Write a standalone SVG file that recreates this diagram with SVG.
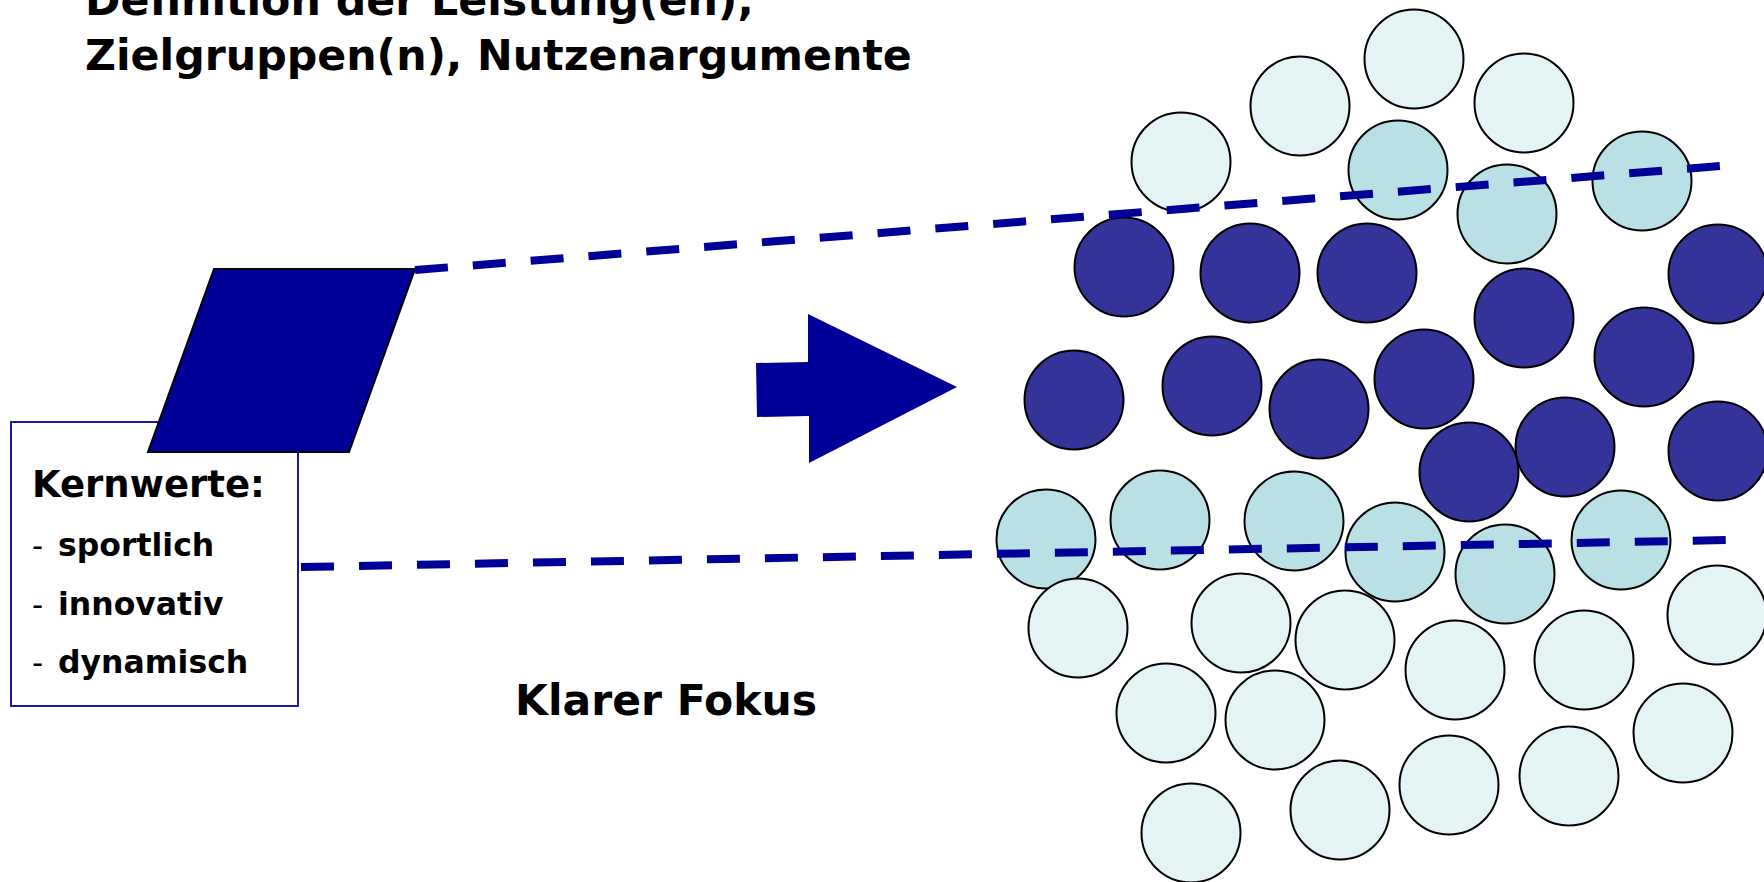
<svg xmlns="http://www.w3.org/2000/svg" width="1764" height="882" viewBox="0 0 1764 882">
  <style>
    .t { font-family: "DejaVu Sans", Verdana, sans-serif; font-weight: bold; fill: #000; }
    .dash { font-family: "DejaVu Sans", Verdana, sans-serif; font-weight: normal; fill: #000; }
    .c { stroke: #000; stroke-width: 2; }
    .light { fill: #E4F3F4; }
    .mid { fill: #B9E0E4; }
    .dark { fill: #333399; }
    .guide { fill: none; stroke: #000099; stroke-width: 8; stroke-dasharray: 33 25; }
  </style>

  <rect width="1764" height="882" fill="#fff"/>

  <!-- heading -->
  <g id="title">
    <text class="t" x="85" y="15" font-size="42.7">Definition der Leistung(en),</text>
    <text class="t" x="85" y="70" font-size="42.7">Zielgruppen(n), Nutzenargumente</text>
  </g>

  <!-- core values box -->
  <g id="kernwerte">
    <rect x="11" y="422" width="287" height="284" fill="#fff" stroke="#000099" stroke-width="1.8"/>
    <text class="t" x="32" y="497" font-size="37">Kernwerte:</text>
    <text class="dash" x="32" y="556" font-size="31">-</text>
    <text class="t" x="58" y="556" font-size="31.5">sportlich</text>
    <text class="dash" x="32" y="615" font-size="31">-</text>
    <text class="t" x="58" y="615" font-size="31.5">innovativ</text>
    <text class="dash" x="32" y="673" font-size="31">-</text>
    <text class="t" x="58" y="673" font-size="31.5">dynamisch</text>
  </g>

  <!-- brand parallelogram -->
  <g id="marke">
    <polygon points="214,269 415,269 349,452 148,452" fill="#000099" stroke="#000" stroke-width="2"/>
  </g>

  <!-- block arrow -->
  <g id="pfeil">
    <polygon points="756,363 808,362 808,314 957,387 809,463 809,416 757,417" fill="#000099"/>
  </g>

  <g id="fokus">
    <text class="t" x="515" y="715" font-size="42.5">Klarer Fokus</text>
  </g>

  <!-- market cloud -->
  <g id="markt">
    <g id="aussen-oben">
      <circle class="c light" cx="1181" cy="162" r="49.5"/>
      <circle class="c light" cx="1300" cy="106" r="49.5"/>
      <circle class="c light" cx="1414" cy="59" r="49.5"/>
      <circle class="c light" cx="1524" cy="103" r="49.5"/>
    </g>
    <g id="rand-oben">
      <circle class="c mid" cx="1398" cy="170" r="49.5"/>
      <circle class="c mid" cx="1507" cy="214" r="49.5"/>
      <circle class="c mid" cx="1642" cy="181" r="49.5"/>
    </g>
    <g id="kern">
      <circle class="c dark" cx="1124" cy="267" r="49.5"/>
      <circle class="c dark" cx="1250" cy="273" r="49.5"/>
      <circle class="c dark" cx="1367" cy="273" r="49.5"/>
      <circle class="c dark" cx="1524" cy="318" r="49.5"/>
      <circle class="c dark" cx="1718" cy="274" r="49.5"/>
      <circle class="c dark" cx="1074" cy="400" r="49.5"/>
      <circle class="c dark" cx="1212" cy="386" r="49.5"/>
      <circle class="c dark" cx="1319" cy="409" r="49.5"/>
      <circle class="c dark" cx="1424" cy="379" r="49.5"/>
      <circle class="c dark" cx="1644" cy="357" r="49.5"/>
      <circle class="c dark" cx="1469" cy="472" r="49.5"/>
      <circle class="c dark" cx="1565" cy="447" r="49.5"/>
      <circle class="c dark" cx="1718" cy="451" r="49.5"/>
    </g>
    <g id="rand-unten">
      <circle class="c mid" cx="1046" cy="539" r="49.5"/>
      <circle class="c mid" cx="1160" cy="520" r="49.5"/>
      <circle class="c mid" cx="1294" cy="521" r="49.5"/>
      <circle class="c mid" cx="1395" cy="552" r="49.5"/>
      <circle class="c mid" cx="1505" cy="574" r="49.5"/>
      <circle class="c mid" cx="1621" cy="540" r="49.5"/>
    </g>
    <g id="aussen-unten">
      <circle class="c light" cx="1078" cy="628" r="49.5"/>
      <circle class="c light" cx="1241" cy="623" r="49.5"/>
      <circle class="c light" cx="1345" cy="640" r="49.5"/>
      <circle class="c light" cx="1455" cy="670" r="49.5"/>
      <circle class="c light" cx="1584" cy="660" r="49.5"/>
      <circle class="c light" cx="1717" cy="615" r="49.5"/>
      <circle class="c light" cx="1166" cy="713" r="49.5"/>
      <circle class="c light" cx="1275" cy="720" r="49.5"/>
      <circle class="c light" cx="1683" cy="733" r="49.5"/>
      <circle class="c light" cx="1191" cy="833" r="49.5"/>
      <circle class="c light" cx="1340" cy="810" r="49.5"/>
      <circle class="c light" cx="1449" cy="785" r="49.5"/>
      <circle class="c light" cx="1569" cy="776" r="49.5"/>
    </g>
  </g>

  <!-- projection lines from brand to target segment -->
  <g id="connectors">
    <line class="guide" x1="415" y1="270" x2="1721" y2="166"/>
    <line class="guide" x1="301" y1="567" x2="1732" y2="540"/>
  </g>
</svg>
